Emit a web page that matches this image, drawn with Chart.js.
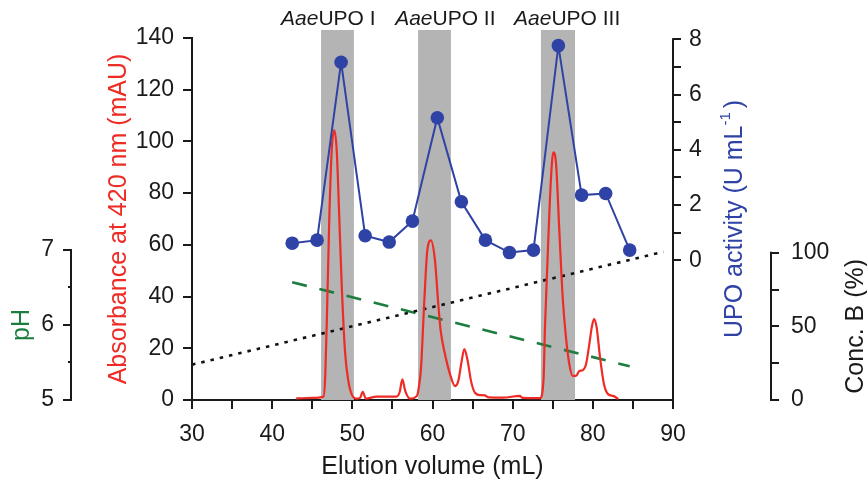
<!DOCTYPE html>
<html><head><meta charset="utf-8">
<script src="https://cdn.jsdelivr.net/npm/chart.js@4.4.1/dist/chart.umd.min.js"></script>
<style>html,body{margin:0;padding:0;background:#fff;}canvas{display:block;}</style>
</head><body>
<canvas id="c" width="867" height="485"></canvas>
<script>
// ---------- data ----------
const absX = [43.0,45.0,46.4,46.63,46.88,47.13,47.43,47.75,48.05,48.37,48.67,49.08,49.5,49.92,50.55,51.0,51.29,51.7,53.0,55.5,55.9,56.24,56.6,57.2,58.03,58.3,58.57,58.98,59.35,59.8,60.31,60.72,61.02,61.56,62.18,62.81,63.22,63.64,63.97,64.39,64.8,65.3,65.93,66.5,67.0,68.8,70.9,71.2,73.4,73.85,74.03,74.33,74.66,75.07,75.41,75.82,76.24,76.65,77.07,77.49,77.9,78.31,78.73,79.15,79.56,79.86,80.15,80.48,80.9,81.39,81.93,82.55,83.18];
const absY = [0.6,0.8,1.3,10,38.4,70.7,96.6,104.3,96.6,70.7,44.9,19,7.4,2.2,0.5,1.0,3.2,0.5,1.3,1.3,3,8,3.5,0.5,1.5,5,12.5,38.4,57.8,61.7,53.9,37.1,26.8,17.7,10,5.4,7.4,15.1,19.7,15.1,7.4,2.8,1.9,1.8,1.0,0.9,1.6,0.8,0.7,8,28,52.6,78.5,95.8,91.4,65.5,39.7,24.2,13.8,9.3,9.3,11.2,11.5,13.8,21.6,28,31.3,28,16.4,6.1,2.2,1.6,0.3];
const upoX = [42.5,45.6,48.6,51.6,54.6,57.5,60.6,63.6,66.6,69.6,72.6,75.7,78.6,81.6,84.6];
const upoY = [0.62,0.73,7.17,0.89,0.66,1.42,5.16,2.12,0.73,0.28,0.37,7.77,2.36,2.42,0.37];
const phX = [42.5, 84.6];
const phY = [6.57, 5.45];
const concX = [30, 88.8];
const concY = [24, 100.6];
const bandStart = [46.1, 58.2, 73.5];
const bandEnd = [50.2, 62.3, 77.8];
const peakNames = ['I', 'II', 'III'];
const peakLabelX = [47.0, 61.6, 76.8];
const xTicks = [30,35,40,45,50,55,60,65,70,75,80,85,90];
const xTickLabels = [30,40,50,60,70,80,90];
const absTicks = [0,20,40,60,80,100,120,140];
const upoTicks = [0,1,2,3,4,5,6,7,8];
const upoTickLabels = [0,2,4,6,8];
const phTicks = [5,6,7];
const phMinorTicks = [5.5,6.5];
const concTicks = [0,25,50,75,100];
const concTickLabels = [0,50,100];

// ---------- axis ranges ----------
const ABS_MAX = 143.09, UPO_MIN = -5.057, UPO_MAX = 8.337, PH_MAX = 9.933, CONC_MAX = 251.2;

const FONT = "'Liberation Sans', Arial, Helvetica, sans-serif";
const INK = '#1a1a1a';
const RED = '#ee2b24', BLUE = '#2f42a5', GREEN = '#1d7d3f', GRAY = '#b4b4b4';

const toXY = (xs, ys) => xs.map((x, i) => ({x: x, y: ys[i]}));
const setTicks = arr => (a => { a.ticks = arr.map(v => ({value: v})); });

const bandSets = bandStart.map((s, i) => ({
  type: 'line', yAxisID: 'yAbs',
  data: [{x: s, y: 0}, {x: s, y: ABS_MAX}, {x: bandEnd[i], y: ABS_MAX}, {x: bandEnd[i], y: 0}],
  borderWidth: 0, borderColor: 'rgba(0,0,0,0)', pointRadius: 0, fill: 'origin',
  backgroundColor: GRAY, tension: 0, order: 10
}));

function yAxis(pos, weight, min, max, ticksArr, labels, width, tl, pad) {
  return {
    type: 'linear', position: pos, weight: weight, min: min, max: max,
    afterBuildTicks: setTicks(ticksArr),
    afterFit: a => { a.width = width; },
    ticks: {
      autoSkip: false, padding: pad, color: INK, font: {family: FONT, size: 23},
      callback: v => (labels === null || labels.includes(v)) ? String(v) : ''
    },
    grid: {drawOnChartArea: false, drawTicks: true, tickLength: tl, lineWidth: 2, color: INK},
    border: {display: false},
    title: {display: false}
  };
}

function drawParts(ctx, parts, cx, cy, rotate, align) {
  ctx.save();
  ctx.translate(cx, cy);
  if (rotate) ctx.rotate(-Math.PI / 2);
  let total = 0;
  parts.forEach(p => { ctx.font = p.font; p.w = ctx.measureText(p.text).width + (p.gap || 0); total += p.w; });
  let x = align === 'center' ? -total / 2 : 0;
  ctx.textAlign = 'left';
  parts.forEach(p => {
    ctx.font = p.font; ctx.fillStyle = p.color; ctx.textBaseline = p.baseline || 'middle';
    ctx.fillText(p.text, x, p.dy || 0);
    x += p.w;
  });
  ctx.restore();
}

const decor = {
  id: 'decor',
  afterDraw(chart) {
    const ctx = chart.ctx, S = chart.scales, area = chart.chartArea;
    ctx.save();
    ctx.strokeStyle = INK; ctx.lineWidth = 2; ctx.lineCap = 'square';
    const vline = (x, y1, y2) => { ctx.beginPath(); ctx.moveTo(x, y1); ctx.lineTo(x, y2); ctx.stroke(); };
    vline(S.yAbs.right, S.yAbs.getPixelForValue(140), area.bottom);
    vline(S.yUPO.left, S.yUPO.getPixelForValue(8), area.bottom);
    vline(S.yPH.right, S.yPH.getPixelForValue(7), S.yPH.getPixelForValue(5));
    vline(S.yConc.left, S.yConc.getPixelForValue(100), S.yConc.getPixelForValue(0));
    ctx.lineCap = 'butt';
    phMinorTicks.forEach(v => {
      const y = Math.round(S.yPH.getPixelForValue(v));
      ctx.beginPath(); ctx.moveTo(S.yPH.right - 3, y); ctx.lineTo(S.yPH.right, y); ctx.stroke();
    });
    ctx.restore();

    const tf = '25px ' + FONT;
    // axis titles (rotated, reading bottom to top)
    drawParts(ctx, [{text: 'Absorbance at 420 nm (mAU)', font: tf, color: RED}],
      S.yAbs.left + 48, (S.yAbs.getPixelForValue(0) + S.yAbs.getPixelForValue(140)) / 2, true, 'center');
    drawParts(ctx, [{text: 'pH', font: tf, color: GREEN}],
      S.yPH.left + 22, (S.yPH.getPixelForValue(5) + S.yPH.getPixelForValue(7)) / 2, true, 'center');
    drawParts(ctx, [
        {text: 'UPO activity (U mL', font: tf, color: BLUE},
        {text: '-1', font: '15px ' + FONT, color: BLUE, dy: -9, gap: 4},
        {text: ')', font: tf, color: BLUE}],
      S.yUPO.left + 62, (S.yAbs.getPixelForValue(0) + S.yAbs.getPixelForValue(140)) / 2, true, 'center');
    drawParts(ctx, [{text: 'Conc. B (%)', font: tf, color: INK}],
      S.yConc.left + 85, (S.yConc.getPixelForValue(0) + S.yConc.getPixelForValue(100)) / 2, true, 'center');

    // peak labels
    peakNames.forEach((n, i) => {
      drawParts(ctx, [
          {text: 'Aae', font: 'italic 21px ' + FONT, color: INK, baseline: 'alphabetic'},
          {text: 'UPO ' + n, font: '21px ' + FONT, color: INK, baseline: 'alphabetic'}],
        S.x.getPixelForValue(peakLabelX[i]), 25, false, 'center');
    });
  }
};

new Chart(document.getElementById('c'), {
  type: 'line',
  data: {
    datasets: [
      ...bandSets,
      {type: 'line', yAxisID: 'yConc', data: toXY(concX, concY), borderColor: '#111', borderWidth: 2.6,
       borderDash: [3.5, 6], pointRadius: 0, fill: false, order: 6},
      {type: 'line', yAxisID: 'yPH', data: toXY(phX, phY), borderColor: GREEN, borderWidth: 2.6,
       borderDash: [15, 13], pointRadius: 0, fill: false, order: 6},
      {type: 'line', yAxisID: 'yAbs', data: toXY(absX, absY), borderColor: RED, borderWidth: 2.2,
       cubicInterpolationMode: 'monotone', pointRadius: 0, fill: false, order: 3},
      {type: 'line', yAxisID: 'yUPO', data: toXY(upoX, upoY), borderColor: BLUE, borderWidth: 2,
       pointRadius: 6.8, pointHoverRadius: 6.8, pointBackgroundColor: BLUE, pointBorderWidth: 0,
       tension: 0, fill: false, order: 1}
    ]
  },
  options: {
    responsive: false, animation: false, events: [],
    layout: {padding: {top: 30, left: 0, right: 0, bottom: 0}},
    plugins: {legend: {display: false}, tooltip: {enabled: false}},
    scales: {
      x: {
        type: 'linear', position: 'bottom', min: 30, max: 90,
        afterBuildTicks: setTicks(xTicks),
        afterFit: a => { a.height = 85; },
        ticks: {autoSkip: false, maxRotation: 0, padding: 12, color: INK, font: {family: FONT, size: 23},
                callback: v => xTickLabels.includes(v) ? String(v) : ''},
        grid: {drawOnChartArea: false, tickLength: 9, lineWidth: 2, color: INK},
        border: {display: true, width: 2, color: INK},
        title: {display: true, text: 'Elution volume (mL)', color: INK, font: {family: FONT, size: 25},
                padding: {top: 0, bottom: 3}}
      },
      yAbs: yAxis('left', 1, 0, ABS_MAX, absTicks, null, 121, 9, 9),
      yPH: yAxis('left', 2, 5, PH_MAX, phTicks, null, 71, 8, 9),
      yUPO: yAxis('right', 1, UPO_MIN, UPO_MAX, upoTicks, upoTickLabels, 98, 8, 8),
      yConc: yAxis('right', 2, 0, CONC_MAX, concTicks, concTickLabels, 96, 8, 12)
    }
  },
  plugins: [decor]
});
</script>
</body></html>
